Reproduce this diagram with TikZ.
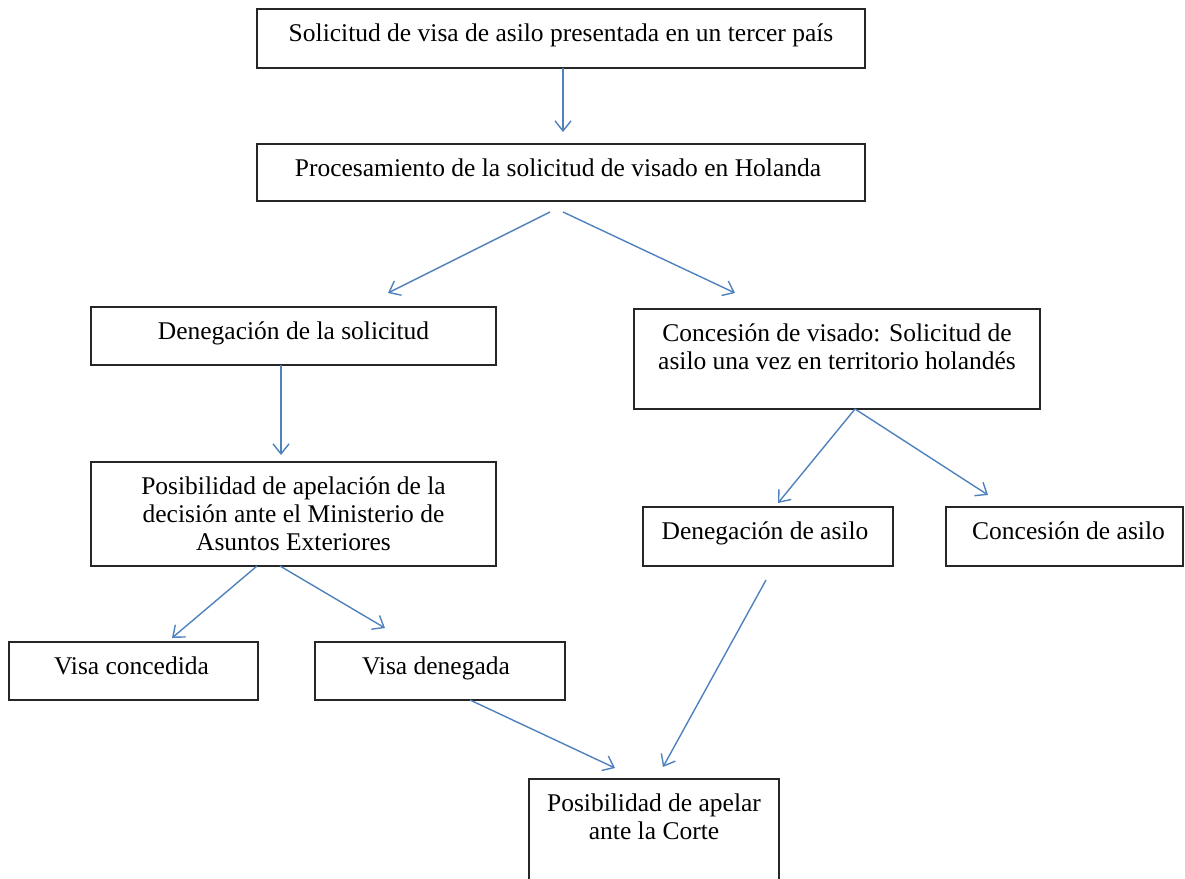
\documentclass[tikz,border=0pt]{standalone}
\usepackage{fontspec}
\setmainfont{Liberation Serif}
\usetikzlibrary{arrows.meta}
\definecolor{arrowblue}{RGB}{79,129,189}
\begin{document}
\begin{tikzpicture}[x=1pt,y=-1pt,
  box/.style={draw=black!85, line width=1.4pt, inner sep=0pt, outer sep=0pt, anchor=north west},
  lbl/.style={anchor=north, inner sep=0pt, align=center, font=\fontsize{25.5}{28}\selectfont},
  arr/.style={draw=arrowblue, line width=1.4pt, -{Straight Barb[length=10pt,width=16pt]}}]
\useasboundingbox (0,0) rectangle (1185,878);
\clip (0,0) rectangle (1185,878);
% boxes
\node[box, minimum width=608pt, minimum height=59pt] (b1) at (257,9) {};
\node[box, minimum width=608pt, minimum height=57pt] (b2) at (257,144) {};
\node[box, minimum width=405pt, minimum height=58pt] (b3) at (91,307) {};
\node[box, minimum width=406pt, minimum height=100pt] (b4) at (634,309) {};
\node[box, minimum width=405pt, minimum height=104pt] (b5) at (91,462) {};
\node[box, minimum width=250pt, minimum height=59pt] (b6) at (643,507) {};
\node[box, minimum width=237pt, minimum height=59pt] (b7) at (946,507) {};
\node[box, minimum width=249pt, minimum height=58pt] (b8) at (9,642) {};
\node[box, minimum width=250pt, minimum height=58pt] (b9) at (315,642) {};
\node[box, minimum width=250pt, minimum height=130pt] (b10) at (529,779) {};
% texts
\node[lbl] (t1) at ([yshift=-12.4pt]b1.north) {\strut Solicitud de visa de asilo presentada en un tercer país};
\node[lbl] (t2) at ([xshift=-3pt,yshift=-12.4pt]b2.north) {\strut Procesamiento de la solicitud de visado en Holanda};
\node[lbl] (t3) at ([yshift=-12.4pt]b3.north) {\strut Denegación de la solicitud};
\node[lbl] (t4) at ([yshift=-12.4pt]b4.north) {\strut Concesión de visado: Solicitud de\\asilo una vez en territorio holandés};
\node[lbl] (t5) at ([yshift=-12.4pt]b5.north) {\strut Posibilidad de apelación de la\\decisión ante el Ministerio de\\Asuntos Exteriores};
\node[lbl] (t6) at ([xshift=-3pt,yshift=-12.4pt]b6.north) {\strut Denegación de asilo};
\node[lbl] (t7) at ([xshift=4pt,yshift=-12.4pt]b7.north) {\strut Concesión de asilo};
\node[lbl] (t8) at ([xshift=-2pt,yshift=-12.4pt]b8.north) {\strut Visa concedida};
\node[lbl] (t9) at ([xshift=-4pt,yshift=-12.4pt]b9.north) {\strut Visa denegada};
\node[lbl] (t10) at ([yshift=-12.4pt]b10.north) {\strut Posibilidad de apelar\\ante la Corte};
% arrows
\draw[arr] ([xshift=2pt]b1.south) -- ([xshift=2pt,yshift=12pt]b2.north);
\draw[arr] ([xshift=-11pt,yshift=-11pt]b2.south) -- ([xshift=94.5pt,yshift=14pt]b3.north);
\draw[arr] ([xshift=2pt,yshift=-11pt]b2.south) -- ([xshift=-102pt,yshift=16pt]b4.north);
\draw[arr] ([xshift=-12.5pt]b3.south) -- ([xshift=-12.5pt,yshift=7pt]b5.north);
\draw[arr] ([xshift=18pt]b4.south) -- ([xshift=10pt,yshift=4pt]b6.north);
\draw[arr] ([xshift=18pt]b4.south) -- ([xshift=-76.5pt,yshift=12pt]b7.north);
\draw[arr] ([xshift=-36.5pt]b5.south) -- ([xshift=38.5pt,yshift=4pt]b8.north);
\draw[arr] ([xshift=-13.5pt]b5.south) -- ([xshift=-55pt,yshift=14pt]b9.north);
\draw[arr] ([xshift=30pt]b9.south) -- ([xshift=-39pt,yshift=11pt]b10.north);
\draw[arr] ([xshift=-2pt,yshift=-14pt]b6.south) -- ([xshift=9pt,yshift=12pt]b10.north);
\end{tikzpicture}
\end{document}
